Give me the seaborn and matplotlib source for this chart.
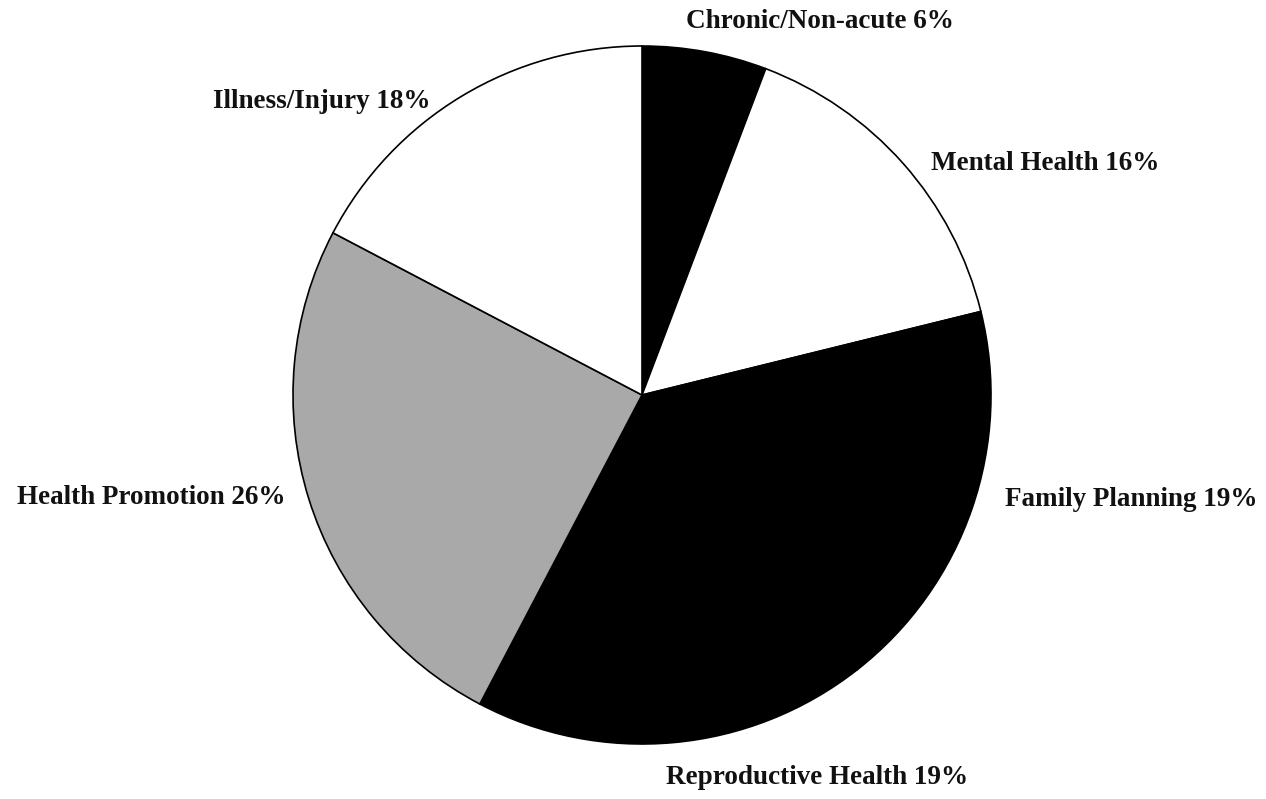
import matplotlib
matplotlib.use("Agg")
import matplotlib.pyplot as plt
import seaborn as sns

categories = ["Chronic/Non-acute", "Mental Health", "Family Planning",
              "Reproductive Health", "Health Promotion", "Illness/Injury"]
values = [6, 16, 19, 19, 26, 18]
colors = ["#000000", "#ffffff", "#000000", "#000000", "#a9a9a9", "#ffffff"]

sns.set_theme(style="white")
plt.rcParams['font.family'] = ['Liberation Serif', 'DejaVu Serif']

W, H = 1266, 799
fig = plt.figure(figsize=(W / 100, H / 100), dpi=100)
ax = fig.add_axes([0, 0, 1, 1])

cx, cy, R = 642, 395, 349

wedges, _ = ax.pie(values, colors=colors, startangle=90, counterclock=False,
                   radius=1.0, center=(0, 0), frame=True,
                   wedgeprops=dict(edgecolor="black", linewidth=1.2))
ax.set_xlim(-cx / R, (W - cx) / R)
ax.set_ylim(-(H - cy) / R, cy / R)
ax.set_aspect("auto")
ax.axis("off")

# label centers in pixels
label_px = [(820, 22), (1045, 163), (1131, 500), (817, 778), (151, 498), (322, 101)]
for cat, v, (px, py) in zip(categories, values, label_px):
    ax.text((px - cx) / R, (cy - py) / R, f"{cat} {v}%", ha="center", va="center",
            fontsize=19.5, fontweight="bold", color="#111111")

fig.savefig("out.png", dpi=100, facecolor="white")
